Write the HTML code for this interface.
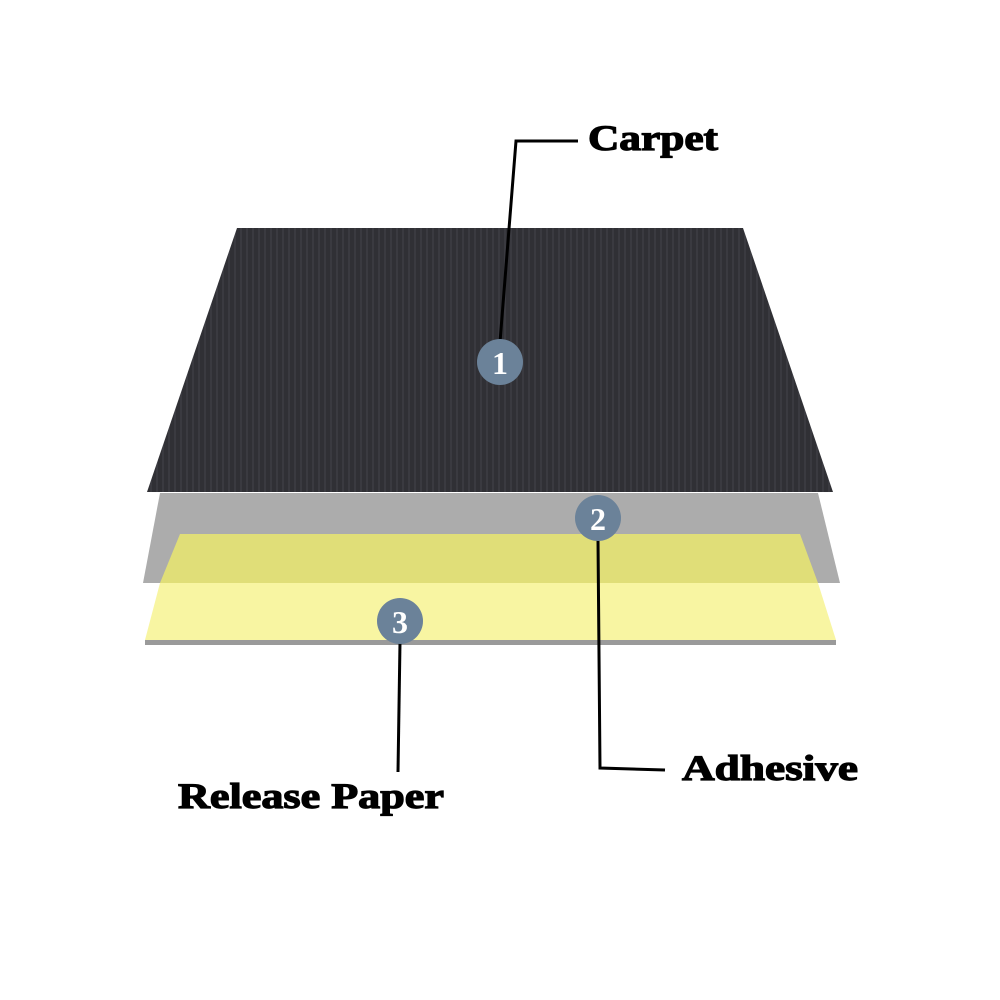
<!DOCTYPE html>
<html><head><style>
body{margin:0;background:#fff;width:1000px;height:1000px;overflow:hidden}
svg{display:block}
text{font-family:"Liberation Serif",serif;font-weight:bold;fill:#000}
.lbl{stroke:#000;stroke-width:1.2}
</style></head><body>
<svg width="1000" height="1000" viewBox="0 0 1000 1000">
<defs>
<pattern id="rib" width="6" height="6" patternUnits="userSpaceOnUse">
<rect width="6" height="6" fill="#303035"/><rect width="2" height="6" fill="#3a3a40"/>
</pattern>
</defs>
<polygon points="160,493 818,493 840,583 143,583" fill="#acacac"/>
<polygon points="180,534 800,534 818,583 160,583" fill="#e0de78"/>
<polygon points="160,583 818,583 836,640 145,640" fill="#f8f5a2"/>
<polygon points="145,640 836,640 836,645 145,645" fill="#9a9a9a"/>
<polygon points="237,228 743,228 833,492 147,492" fill="url(#rib)"/>
<polyline points="578,141 516,141 500,342" fill="none" stroke="#000" stroke-width="3"/>
<polyline points="598,540 600,768 665,770" fill="none" stroke="#000" stroke-width="3"/>
<line x1="400" y1="642" x2="398" y2="772" stroke="#000" stroke-width="3"/>
<circle cx="500" cy="362" r="23" fill="#6b8299"/>
<circle cx="598" cy="518" r="23" fill="#6b8299"/>
<circle cx="400" cy="621" r="23" fill="#6b8299"/>
<text x="500" y="374" font-size="32" text-anchor="middle" style="fill:#fff">1</text>
<text x="598" y="530" font-size="32" text-anchor="middle" style="fill:#fff">2</text>
<text x="400" y="633" font-size="32" text-anchor="middle" style="fill:#fff">3</text>
<text class="lbl" x="588" y="150" font-size="36" textLength="130" lengthAdjust="spacingAndGlyphs">Carpet</text>
<text class="lbl" x="682" y="780" font-size="36" textLength="176" lengthAdjust="spacingAndGlyphs">Adhesive</text>
<text class="lbl" x="178" y="808" font-size="36" textLength="266" lengthAdjust="spacingAndGlyphs">Release Paper</text>
</svg>
</body></html>
